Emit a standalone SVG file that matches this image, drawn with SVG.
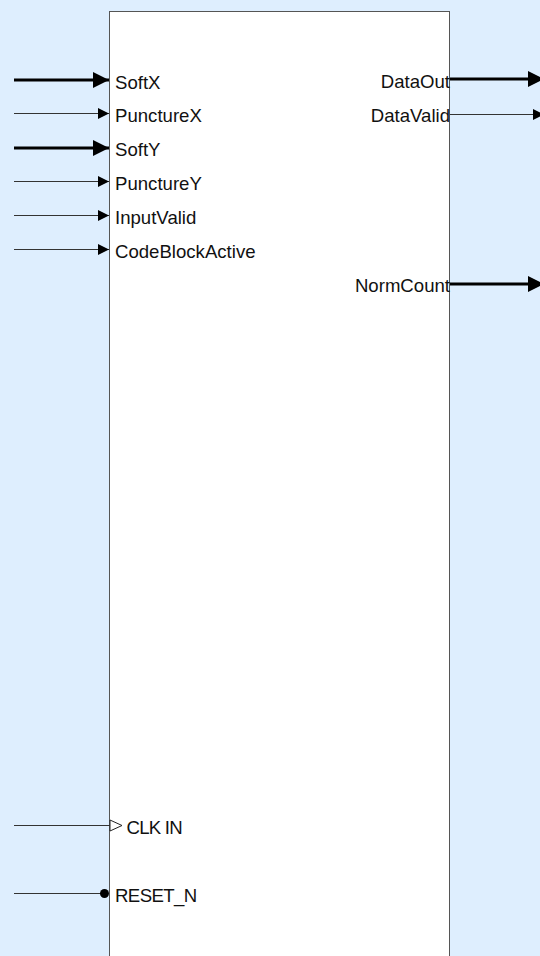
<svg xmlns="http://www.w3.org/2000/svg" width="540" height="956" viewBox="0 0 540 956">
<style>
.lbl{font-family:"Liberation Sans",Arial,sans-serif;font-size:18.6px;fill:#111}
.r{text-anchor:end}
.thin{stroke:#333;stroke-width:1;fill:none}
.thick{stroke:#000;stroke-width:3;fill:none}
</style>
<defs>
<marker id="ah" markerWidth="11" markerHeight="11" refX="11" refY="5.5" orient="auto" markerUnits="userSpaceOnUse"><path d="M0,0 L11,5.5 L0,11 Z" fill="#000"/></marker>
<marker id="ahb" markerWidth="16" markerHeight="16" refX="16" refY="8" orient="auto" markerUnits="userSpaceOnUse"><path d="M0,0 L16,8 L0,16 Z" fill="#000"/></marker>
</defs>
<rect x="0" y="0" width="540" height="956" fill="#deeefe"/>
<g id="block">
<rect x="109.5" y="11.5" width="340" height="960" fill="#fff" stroke="#555" stroke-width="1"/>
</g>
<g id="connectors">
<line class="thick" x1="14" y1="80" x2="109" y2="80" marker-end="url(#ahb)"/>
<line class="thin" x1="14" y1="113.5" x2="109" y2="113.5" marker-end="url(#ah)"/>
<line class="thick" x1="14" y1="148" x2="109" y2="148" marker-end="url(#ahb)"/>
<line class="thin" x1="14" y1="181.5" x2="109" y2="181.5" marker-end="url(#ah)"/>
<line class="thin" x1="14" y1="215.5" x2="109" y2="215.5" marker-end="url(#ah)"/>
<line class="thin" x1="14" y1="249.5" x2="109" y2="249.5" marker-end="url(#ah)"/>
<line class="thick" x1="450" y1="79" x2="544" y2="79" marker-end="url(#ahb)"/>
<line class="thin" x1="450" y1="114.5" x2="544" y2="114.5" marker-end="url(#ah)"/>
<line class="thick" x1="450" y1="284" x2="544" y2="284" marker-end="url(#ahb)"/>
<line class="thin" x1="14" y1="825.5" x2="110" y2="825.5"/>
<path d="M110,820 L122,825.5 L110,831 Z" fill="#fff" stroke="#222" stroke-width="1"/>
<line class="thin" x1="14" y1="893.5" x2="102" y2="893.5"/>
<circle cx="104.5" cy="893.5" r="4.5" fill="#000"/>
</g>
<g id="ports">
<text class="lbl" x="115" y="88.5">SoftX</text>
<text class="lbl" x="115" y="122">PunctureX</text>
<text class="lbl" x="115" y="156">SoftY</text>
<text class="lbl" x="115" y="190">PunctureY</text>
<text class="lbl" x="115" y="224">InputValid</text>
<text class="lbl" x="115" y="258">CodeBlockActive</text>
<text class="lbl r" x="450" y="88">DataOut</text>
<text class="lbl r" x="450" y="121.5">DataValid</text>
<text class="lbl r" x="450" y="292">NormCount</text>
<text class="lbl" x="126.5" y="833.5" letter-spacing="-0.75">CLK IN</text>
<text class="lbl" x="115" y="902" letter-spacing="-0.6">RESET_N</text>
</g>
</svg>
